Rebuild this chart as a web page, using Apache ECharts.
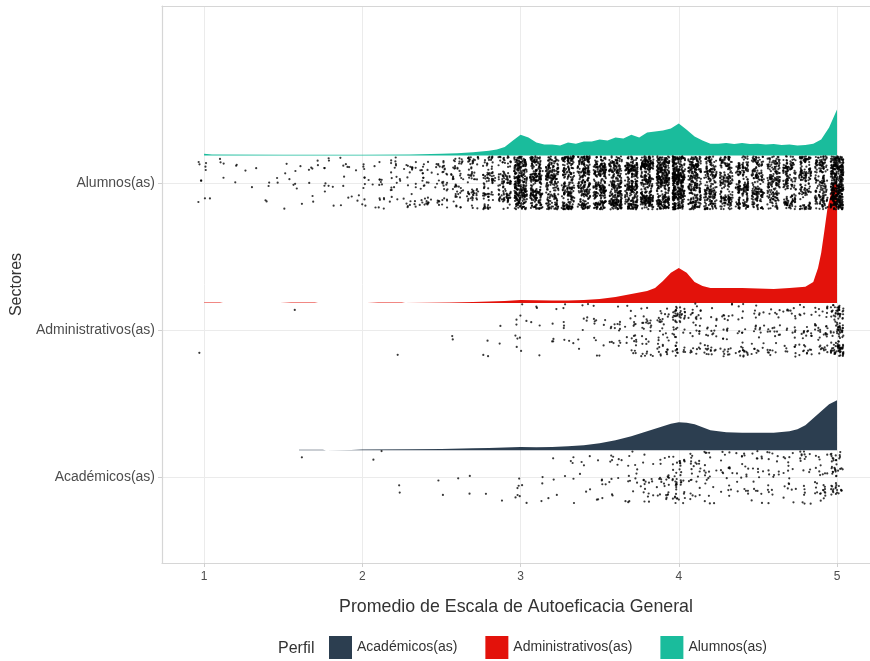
<!DOCTYPE html>
<html>
<head>
<meta charset="utf-8">
<script src="https://cdn.jsdelivr.net/npm/echarts@6/dist/echarts.min.js"></script>
<style>
  html, body { margin: 0; padding: 0; background: #fff; }
  #chart { width: 870px; height: 661px; }
</style>
</head>
<body>
<div id="chart"></div>
<script>
// Sectors on the y axis (bottom to top) and their fill colours
const sectores = ['Académicos(as)', 'Administrativos(as)', 'Alumnos(as)'];
const colores = ['#2c3e50', '#e3120b', '#1abc9c'];
const xTicks = [1, 2, 3, 4, 5];
const yTicks = [1, 2, 3];

// Possible scale averages (1.0 … 5.0 in steps of 0.1)
const niveles = [1.0, 1.1, 1.2, 1.3, 1.4, 1.5, 1.6, 1.7, 1.8, 1.9,
                 2.0, 2.1, 2.2, 2.3, 2.4, 2.5, 2.6, 2.7, 2.8, 2.9,
                 3.0, 3.1, 3.2, 3.3, 3.4, 3.5, 3.6, 3.7, 3.8, 3.9,
                 4.0, 4.1, 4.2, 4.3, 4.4, 4.5, 4.6, 4.7, 4.8, 4.9, 5.0];

// Number of respondents at each average, per sector
const nAcademicos = [0, 0, 0, 0, 0, 0, 1, 0, 0, 0,
                     0, 2, 2, 0, 0, 2, 1, 2, 1, 1,
                     8, 3, 4, 6, 6, 8, 12, 15, 18, 25,
                     45, 25, 20, 18, 18, 18, 18, 18, 20, 28, 50];
const nAdministrativos = [1, 0, 0, 0, 0, 0, 1, 0, 0, 0,
                          0, 0, 1, 0, 0, 0, 2, 0, 3, 2,
                          10, 5, 5, 8, 8, 12, 16, 22, 28, 35,
                          60, 32, 28, 26, 26, 25, 25, 25, 30, 40, 130];
const nAlumnos = [10, 4, 3, 3, 4, 6, 6, 8, 10, 10,
                  14, 16, 20, 25, 30, 40, 50, 65, 85, 110,
                  300, 230, 200, 220, 230, 250, 260, 280, 300, 320,
                  400, 240, 190, 180, 180, 170, 170, 160, 160, 170, 420];

// Density curves (x = average, h = density height in y-axis units)
const densAcadX = [1.6, 1.75, 1.77, 1.93, 2.0, 2.3, 2.5, 2.7, 2.8, 2.9, 3.0, 3.1, 3.2, 3.3, 3.4, 3.5,
                   3.6, 3.7, 3.8, 3.9, 3.95, 4.0, 4.05, 4.1, 4.2, 4.3, 4.4, 4.5, 4.6, 4.7, 4.75,
                   4.8, 4.85, 4.9, 4.95, 5.0];
const densAcadH = [0.003, 0.003, 0, 0.002, 0.006, 0.007, 0.009, 0.013, 0.016, 0.019, 0.023, 0.021, 0.022,
                   0.027, 0.034, 0.047, 0.068, 0.095, 0.129, 0.163, 0.180, 0.190, 0.187, 0.176, 0.136,
                   0.122, 0.119, 0.119, 0.119, 0.129, 0.142, 0.170, 0.217, 0.265, 0.312, 0.339];

const densAdminX = [1.0, 1.1, 1.12, 1.48, 1.55, 1.7, 1.72, 2.03, 2.1, 2.25, 2.27, 2.55, 2.7, 2.8, 2.9,
                    3.0, 3.1, 3.2, 3.3, 3.4, 3.5, 3.6, 3.7, 3.8, 3.85, 3.9, 3.95, 4.0, 4.05, 4.1,
                    4.15, 4.2, 4.3, 4.4, 4.5, 4.6, 4.7, 4.8, 4.85, 4.88, 4.9, 4.92, 4.94, 4.97, 5.0];
const densAdminH = [0.003, 0.003, 0, 0, 0.003, 0.003, 0, 0, 0.003, 0.003, 0, 0.002, 0.006, 0.009, 0.013,
                    0.019, 0.018, 0.016, 0.017, 0.020, 0.027, 0.041, 0.061, 0.081, 0.102, 0.149, 0.204,
                    0.237, 0.204, 0.142, 0.115, 0.102, 0.102, 0.102, 0.098, 0.095, 0.102, 0.109, 0.142,
                    0.237, 0.339, 0.488, 0.645, 0.780, 0.834];

const densAlumX = [1.0, 1.05, 1.5, 2.0, 2.3, 2.5, 2.6, 2.7, 2.8, 2.85, 2.9, 2.95, 3.0, 3.05, 3.1, 3.15,
                   3.2, 3.25, 3.3, 3.35, 3.4, 3.45, 3.5, 3.55, 3.6, 3.65, 3.7, 3.75, 3.8, 3.85, 3.9,
                   3.95, 4.0, 4.05, 4.1, 4.15, 4.2, 4.25, 4.3, 4.35, 4.4, 4.45, 4.5, 4.55, 4.6, 4.65,
                   4.7, 4.75, 4.8, 4.85, 4.9, 4.95, 5.0];
const densAlumH = [0.012, 0.007, 0.006, 0.006, 0.008, 0.013, 0.016, 0.023, 0.032, 0.042, 0.058, 0.100,
                   0.142, 0.122, 0.088, 0.075, 0.075, 0.068, 0.088, 0.081, 0.095, 0.095, 0.109, 0.102,
                   0.122, 0.115, 0.142, 0.122, 0.156, 0.163, 0.170, 0.183, 0.217, 0.176, 0.129, 0.102,
                   0.081, 0.081, 0.085, 0.078, 0.085, 0.078, 0.081, 0.075, 0.078, 0.071, 0.075, 0.068,
                   0.071, 0.081, 0.109, 0.190, 0.312];

// Layout of each raincloud relative to its sector line
const CLOUD_OFFSET = 0.185;  // density baseline sits just above the sector line
const JITTER_Y = 0.18;       // vertical half-spread of the rain
const JITTER_X = 0.04;       // horizontal half-spread of the rain

// Integer hash → [0, 1), used to scatter the rain points within their band
function spread(n) {
  n = (n ^ 61) ^ (n >>> 16);
  n = n + (n << 3);
  n = n ^ (n >>> 4);
  n = Math.imul(n, 0x27d4eb2d);
  n = n ^ (n >>> 15);
  return (n >>> 0) / 4294967296;
}

// Build jittered rain points from the counts
function lluvia(counts, pos, seed) {
  const pts = [];
  let n = seed * 100000;
  for (let i = 0; i < niveles.length; i++) {
    for (let k = 0; k < counts[i]; k++) {
      n++;
      const u = spread(2 * n + 1);
      const v = spread(2 * n + 2);
      pts.push([niveles[i] + (u - 0.5) * 2 * JITTER_X, pos + (v - 0.5) * 2 * JITTER_Y]);
    }
  }
  return pts;
}

function nube(name, color, xs, hs, pos) {
  return {
    type: 'custom',
    name: name,
    itemStyle: { color: color },
    data: [[xs[0], pos]],
    z: 2,
    silent: true,
    renderItem: function (params, api) {
      const base = pos + CLOUD_OFFSET;
      const pts = [];
      for (let i = 0; i < xs.length; i++) pts.push(api.coord([xs[i], base + hs[i]]));
      for (let i = xs.length - 1; i >= 0; i--) pts.push(api.coord([xs[i], base]));
      return { type: 'polygon', shape: { points: pts }, style: { fill: color, stroke: null } };
    }
  };
}

function puntos(name, data) {
  return {
    type: 'scatter',
    name: name + ' puntos',
    data: data,
    symbolSize: 2.2,
    itemStyle: { color: '#000', opacity: 0.78 },
    z: 5,
    silent: true
  };
}

const chart = echarts.init(document.getElementById('chart'), null, { renderer: 'canvas' });
const fontFam = 'Liberation Sans, Arial, sans-serif';
const frame = { show: true, lineStyle: { color: '#d6d6d6', width: 1.2 } };

chart.setOption({
  animation: false,
  textStyle: { fontFamily: fontFam },
  grid: { left: 162, top: 6, right: 0, bottom: 98 },
  title: {
    text: 'Perfil', left: 273, top: 636,
    textStyle: { fontSize: 16, fontWeight: 'normal', color: '#333', fontFamily: fontFam }
  },
  legend: {
    data: sectores,
    left: 324, top: 631,
    icon: 'rect', itemWidth: 23, itemHeight: 23, itemGap: 28,
    textStyle: { fontSize: 14, color: '#333', fontFamily: fontFam },
    selectedMode: false
  },
  xAxis: [{
    type: 'value', min: 0.734, max: 5.2085,
    name: 'Promedio de Escala de Autoeficacia General',
    nameLocation: 'middle', nameGap: 35,
    nameTextStyle: { fontSize: 17.8, color: '#333', fontFamily: fontFam },
    axisLine: frame,
    axisTick: { show: true, customValues: xTicks, length: 4, lineStyle: { color: '#d0d0d0' } },
    axisLabel: { customValues: xTicks, color: '#4d4d4d', fontSize: 12, margin: 8 },
    splitLine: { show: true, lineStyle: { color: '#ebebeb', width: 1 } }
  }, {
    // top edge of the panel frame
    type: 'value', position: 'top', min: 0.734, max: 5.2085,
    axisLine: frame, axisTick: { show: false }, axisLabel: { show: false }, splitLine: { show: false }
  }],
  yAxis: {
    type: 'value', min: 0.42, max: 4.2,
    name: 'Sectores', nameLocation: 'middle', nameGap: 134, nameRotate: 90,
    nameTextStyle: { fontSize: 16, color: '#333', fontFamily: fontFam },
    axisLine: { show: true, onZero: false, lineStyle: { color: '#d6d6d6', width: 1.2 } },
    axisTick: { show: true, customValues: yTicks, length: 4, lineStyle: { color: '#d0d0d0' } },
    axisLabel: {
      customValues: yTicks, color: '#4d4d4d', fontSize: 14, margin: 7,
      formatter: function (v) { return sectores[Math.round(v) - 1]; }
    },
    splitLine: { show: true, lineStyle: { color: '#ebebeb', width: 1 } }
  },
  series: [
    nube(sectores[2], colores[2], densAlumX, densAlumH, 3),
    nube(sectores[1], colores[1], densAdminX, densAdminH, 2),
    nube(sectores[0], colores[0], densAcadX, densAcadH, 1),
    puntos(sectores[2], lluvia(nAlumnos, 3, 11)),
    puntos(sectores[1], lluvia(nAdministrativos, 2, 3)),
    puntos(sectores[0], lluvia(nAcademicos, 1, 7))
  ]
});
</script>
</body>
</html>
